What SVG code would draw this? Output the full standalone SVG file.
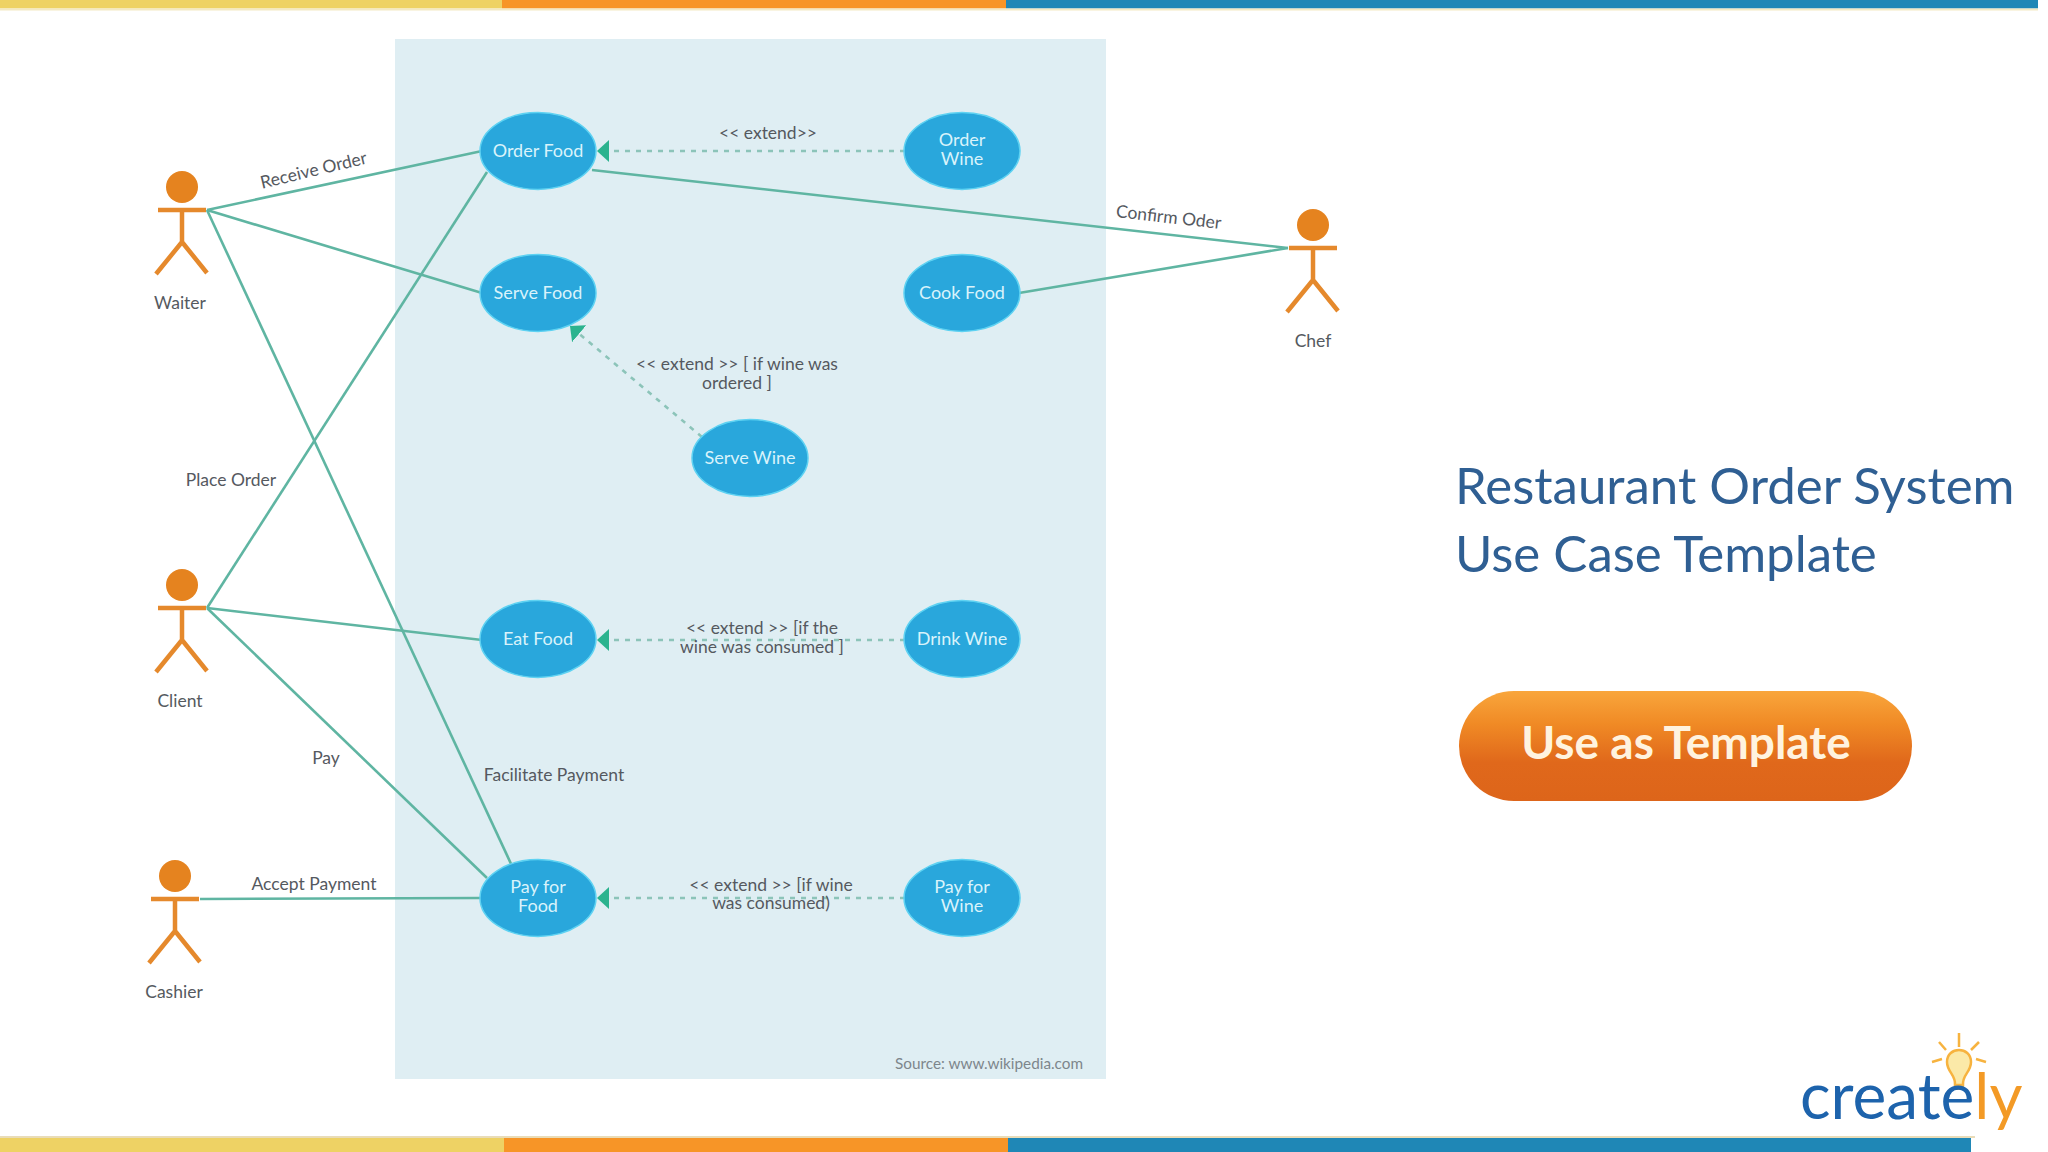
<svg xmlns="http://www.w3.org/2000/svg" width="2048" height="1152" viewBox="0 0 2048 1152">
<style>
text{font-family:Lato,"Liberation Sans",sans-serif}
.uc ellipse{fill:#29a7dc;stroke:#5ed2f2;stroke-width:1.5}
.uc text{fill:#d9f3fb;font-size:18px;text-anchor:middle}
.actor circle{fill:#e5831f}
.actor use{fill:none;stroke:#e5892c;stroke-width:4.5}
.actor text{fill:#555a60;font-size:17.5px;text-anchor:middle}
.assoc line{stroke:#5fb5a2;stroke-width:2.6}
.ext line{stroke:#8cc4b9;stroke-width:2.6;stroke-dasharray:5 6}
.lbl{fill:#55595f;font-size:17.5px}
.mid{text-anchor:middle}
</style>
<defs>
<linearGradient id="btn" x1="0" y1="0" x2="0" y2="1"><stop offset="0" stop-color="#f9a63c"/><stop offset=".3" stop-color="#f08a25"/><stop offset=".65" stop-color="#e0681b"/><stop offset="1" stop-color="#dd651a"/></linearGradient>
<marker id="ah" viewBox="0 0 12 22" refX="12" refY="11" markerWidth="12" markerHeight="22" markerUnits="userSpaceOnUse" orient="auto"><path d="M0 0L12 11L0 22Z" fill="#2bb38e"/></marker>
<path id="stick" d="M0 24V56M-24 24H24M0 56L-26 88M0 56L25 87"/>
</defs>
<rect width="2048" height="1152" fill="#fff"/>
<g id="bars">
<rect x="0" y="0" width="502" height="8.5" fill="#eed264"/><rect x="502" y="0" width="504" height="8.5" fill="#f79527"/><rect x="1006" y="0" width="1032" height="8.5" fill="#1f87b6"/>
<rect x="0" y="8.5" width="2038" height="2" fill="#f3e9c4"/>
<rect x="0" y="1136" width="1975" height="2" fill="#e9dcb8"/>
<rect x="0" y="1138" width="504" height="14" fill="#eed264"/><rect x="504" y="1138" width="504" height="14" fill="#f79527"/><rect x="1008" y="1138" width="963" height="14" fill="#1f87b6"/>
</g>
<rect id="panel" x="395" y="39" width="711" height="1040" fill="#dfeef3"/>
<g id="connectors">
<g class="assoc">
<line x1="207" y1="210" x2="482" y2="151"/>
<line x1="207" y1="210" x2="482" y2="293"/>
<line x1="207" y1="210" x2="512" y2="866"/>
<line x1="207" y1="608" x2="487" y2="172"/>
<line x1="207" y1="608" x2="482" y2="640"/>
<line x1="207" y1="608" x2="487" y2="878"/>
<line x1="200" y1="899" x2="480" y2="898"/>
<line x1="592" y1="170" x2="1288" y2="248"/>
<line x1="1019" y1="293" x2="1288" y2="248"/>
</g>
<g class="ext">
<line x1="905" y1="151" x2="597" y2="151" marker-end="url(#ah)"/>
<line x1="905" y1="640" x2="597" y2="640" marker-end="url(#ah)"/>
<line x1="905" y1="898" x2="597" y2="898" marker-end="url(#ah)"/>
<line x1="702" y1="437" x2="570" y2="326" marker-end="url(#ah)"/>
</g>
</g>
<g id="connector-labels">
<text class="lbl mid" transform="translate(315 176) rotate(-13.5)">Receive Order</text>
<text class="lbl mid" x="768" y="139">&lt;&lt; extend&gt;&gt;</text>
<text class="lbl mid" transform="translate(1168 223) rotate(6.5)">Confirm Oder</text>
<text class="lbl mid" x="737" y="370">&lt;&lt; extend &gt;&gt; [ if wine was</text>
<text class="lbl mid" x="737" y="389">ordered ]</text>
<text class="lbl mid" x="231" y="486">Place Order</text>
<text class="lbl mid" x="762" y="634">&lt;&lt; extend &gt;&gt; [if the</text>
<text class="lbl mid" x="762" y="653">wine was consumed ]</text>
<text class="lbl mid" x="326" y="764">Pay</text>
<text class="lbl mid" x="554" y="781">Facilitate Payment</text>
<text class="lbl mid" x="314" y="890">Accept Payment</text>
<text class="lbl mid" x="771" y="891">&lt;&lt; extend &gt;&gt; [if wine</text>
<text class="lbl mid" x="771" y="909">was consumed)</text>
</g>
<g id="waiter" class="actor" transform="translate(182 186)"><circle cy="1" r="16"/><use href="#stick"/><text x="-2" y="123">Waiter</text></g>
<g id="client" class="actor" transform="translate(182 584)"><circle cy="1" r="16"/><use href="#stick"/><text x="-2" y="123">Client</text></g>
<g id="cashier" class="actor" transform="translate(175 875)"><circle cy="1" r="16"/><use href="#stick"/><text x="-1" y="123">Cashier</text></g>
<g id="chef" class="actor" transform="translate(1313 224)"><circle cy="1" r="16"/><use href="#stick"/><text x="0" y="123">Chef</text></g>
<g id="order-food" class="uc"><ellipse cx="538" cy="151" rx="58" ry="38.5"/><text x="538" y="157">Order Food</text></g>
<g id="order-wine" class="uc"><ellipse cx="962" cy="151" rx="58" ry="38.5"/><text x="962" y="146">Order</text><text x="962" y="165">Wine</text></g>
<g id="serve-food" class="uc"><ellipse cx="538" cy="293" rx="58" ry="38.5"/><text x="538" y="299">Serve Food</text></g>
<g id="cook-food" class="uc"><ellipse cx="962" cy="293" rx="58" ry="38.5"/><text x="962" y="299">Cook Food</text></g>
<g id="serve-wine" class="uc"><ellipse cx="750" cy="458" rx="58" ry="38.5"/><text x="750" y="464">Serve Wine</text></g>
<g id="eat-food" class="uc"><ellipse cx="538" cy="639" rx="58" ry="38.5"/><text x="538" y="645">Eat Food</text></g>
<g id="drink-wine" class="uc"><ellipse cx="962" cy="639" rx="58" ry="38.5"/><text x="962" y="645">Drink Wine</text></g>
<g id="pay-food" class="uc"><ellipse cx="538" cy="898" rx="58" ry="38.5"/><text x="538" y="893">Pay for</text><text x="538" y="912">Food</text></g>
<g id="pay-wine" class="uc"><ellipse cx="962" cy="898" rx="58" ry="38.5"/><text x="962" y="893">Pay for</text><text x="962" y="912">Wine</text></g>
<text id="source" x="895" y="1069" fill="#7d868c" font-size="15.3">Source: www.wikipedia.com</text>
<g id="title" fill="#2f5f93" font-size="51">
<text x="1455" y="504">Restaurant Order System</text>
<text x="1455" y="572">Use Case Template</text>
</g>
<g id="button"><rect x="1459" y="691" width="453" height="110" rx="55" fill="url(#btn)"/><text x="1686" y="759" text-anchor="middle" fill="#fff3df" font-size="46" font-weight="700">Use as Template</text></g>
<g id="logo">
<g fill="none" stroke="#f7b33f" stroke-width="2.5"><path d="M1959 1033V1047M1939 1042L1946 1050M1979 1042L1971 1050M1932 1062L1942 1059M1986 1062L1976 1059"/>
<path d="M1955 1085C1956 1075 1947 1072 1947 1062C1947 1046 1971 1046 1971 1062C1971 1072 1962 1075 1963 1085Z" fill="#fbe9a8"/></g>
<rect x="1954" y="1085" width="10" height="5" fill="#f2b54a"/>
<text x="1800" y="1119" font-size="64" fill="#1d63ac">create<tspan fill="#f39a26">ly</tspan></text>
</g>
</svg>
